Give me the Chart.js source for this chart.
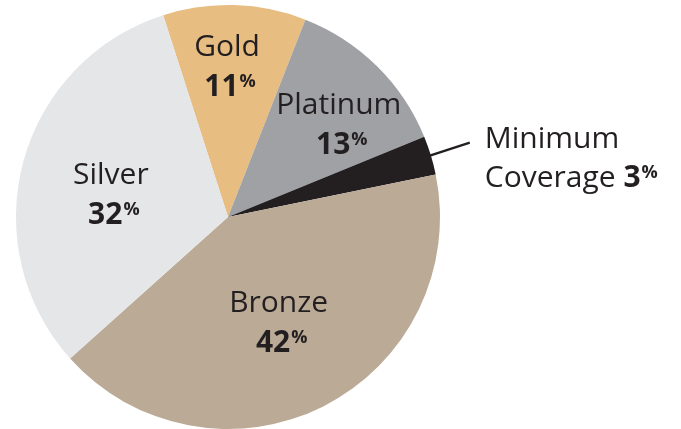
<!DOCTYPE html>
<html>
<head>
<meta charset="utf-8">
<script src="https://cdn.jsdelivr.net/npm/chart.js@4.4.1/dist/chart.umd.min.js"></script>
<style>
  html, body { margin: 0; padding: 0; background: #fff; }
  #wrap { width: 681px; height: 429px; }
</style>
</head>
<body>
<div id="wrap"><canvas id="pieChart"></canvas></div>
<script>
// coverage tiers, clockwise from the top
const tierNames = ['Gold', 'Platinum', 'Minimum Coverage', 'Bronze', 'Silver'];
const tierShares = [11, 13, 3, 42, 32];
const tierColors = ['#e7bd81', '#a0a1a5', '#231f20', '#bbab96', '#e5e6e8'];

const inkColor = '#231f20';
const fontFace = '"Open Sans", sans-serif';

// where each inside label sits: extra angle (deg) and fraction of radius
const labelPlace = {
    'Gold': { da: -2.2, frac: 0.663 },
    'Platinum': { da: 8.7, frac: 0.652 },
    'Bronze': { da: 2.9, frac: 0.592 },
    'Silver': { da: -8.8, frac: 0.556 }
};

// draws "NN" bold with a small raised % sign, centred on x
function drawShare(ctx, value, x, baseline) {
    ctx.font = 'bold 30px ' + fontFace;
    const numW = ctx.measureText(String(value)).width;
    ctx.font = 'bold 18px ' + fontFace;
    const pctW = ctx.measureText('%').width;
    const left = x - (numW + 1 + pctW) / 2;
    ctx.textAlign = 'left';
    ctx.font = 'bold 30px ' + fontFace;
    ctx.fillText(String(value), left, baseline);
    ctx.font = 'bold 18px ' + fontFace;
    ctx.fillText('%', left + numW + 1, baseline - 9);
    return left + numW + 1 + pctW;
}

const sliceLabels = {
    id: 'sliceLabels',
    afterDatasetsDraw(chart) {
        const ctx = chart.ctx;
        const meta = chart.getDatasetMeta(0);
        ctx.save();
        ctx.fillStyle = inkColor;
        ctx.textBaseline = 'alphabetic';
        meta.data.forEach((arc, i) => {
            const p = arc.getProps(['x', 'y', 'startAngle', 'endAngle', 'outerRadius'], true);
            const mid = (p.startAngle + p.endAngle) / 2;
            const name = tierNames[i];
            const value = tierShares[i];
            const place = labelPlace[name];
            if (place) {
                const a = mid + place.da * Math.PI / 180;
                const lx = p.x + Math.cos(a) * p.outerRadius * place.frac;
                const ly = p.y + Math.sin(a) * p.outerRadius * place.frac;
                ctx.font = '30px ' + fontFace;
                ctx.textAlign = 'center';
                ctx.fillText(name, lx, ly - 20);
                drawShare(ctx, value, lx + 3, ly + 20);
            } else {
                // thin slice: leader line out to the right
                const sx = p.x + Math.cos(mid) * p.outerRadius * 0.98;
                const sy = p.y + Math.sin(mid) * p.outerRadius * 0.98;
                const ex = sx + 43;
                const ey = sy - 14;
                ctx.strokeStyle = inkColor;
                ctx.lineWidth = 2.5;
                ctx.beginPath();
                ctx.moveTo(sx, sy);
                ctx.lineTo(ex, ey);
                ctx.stroke();
                const words = name.split(' ');
                ctx.font = '30px ' + fontFace;
                ctx.textAlign = 'left';
                const tx = ex + 15;
                ctx.fillText(words[0], tx, ey + 5);
                const secondLine = words.slice(1).join(' ') + ' ';
                ctx.fillText(secondLine, tx, ey + 44);
                const w = ctx.measureText(secondLine).width;
                ctx.font = 'bold 30px ' + fontFace;
                const numW = ctx.measureText(String(value)).width;
                ctx.font = 'bold 18px ' + fontFace;
                const pctW = ctx.measureText('%').width;
                drawShare(ctx, value, tx + w + (numW + 1 + pctW) / 2, ey + 44);
            }
        });
        ctx.restore();
    }
};

const pieChart = new Chart(document.getElementById('pieChart'), {
    type: 'pie',
    data: {
        labels: tierNames,
        datasets: [{
            data: tierShares,
            backgroundColor: tierColors,
            borderWidth: 0,
            hoverOffset: 0,
            offset: 0
        }]
    },
    options: {
        responsive: true,
        maintainAspectRatio: false,
        animation: false,
        rotation: -17.8,
        layout: {
            padding: { left: 16, right: 241, top: 5, bottom: 0 }
        },
        plugins: {
            legend: { display: false },
            tooltip: { enabled: false }
        }
    },
    plugins: [sliceLabels]
});
</script>
</body>
</html>
